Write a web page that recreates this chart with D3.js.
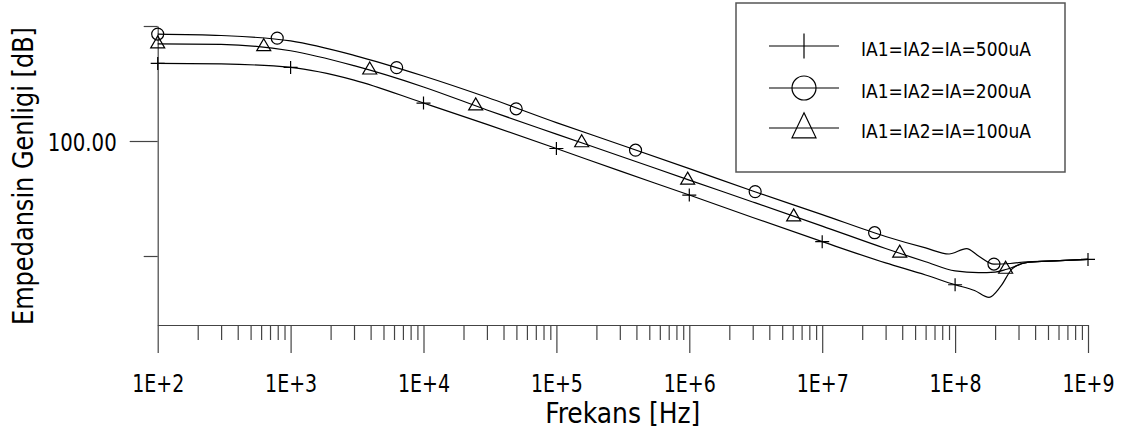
<!DOCTYPE html>
<html>
<head>
<meta charset="utf-8">
<script src="https://cdn.jsdelivr.net/npm/d3@7"></script>
<style>
  body { margin: 0; background: #fff; }
  text { font-family: "DejaVu Sans Condensed", "DejaVu Sans", sans-serif; fill: #000; }
</style>
</head>
<body>
<script>
// curve data: frequency [Hz] and impedance magnitude [dB]
var freq500 = [1e2, 3e2, 1e3, 3e3, 1e4, 3e4, 1e5, 3e5, 1e6, 3e6, 1e7, 3e7, 6e7, 1e8, 1.4e8, 1.8e8, 2.2e8, 2.7e8, 3.5e8, 5e8, 1e9];
var mag500 = [113.5, 113.4, 112.8, 110.6, 106.6, 102.9, 98.7, 94.8, 90.6, 86.7, 82.5, 78.8, 76.7, 75.0, 74.0, 72.8, 74.7, 77.8, 78.9, 79.1, 79.4];

var freq200 = [1e2, 3e2, 1e3, 3e3, 1e4, 3e4, 1e5, 3e5, 1e6, 3e6, 1e7, 3e7, 6e7, 9e7, 1.22e8, 1.5e8, 1.96e8, 2.6e8, 3.5e8, 5e8, 1e9];
var mag200 = [118.6, 118.35, 117.4, 114.9, 111.3, 107.6, 103.2, 99.4, 95.2, 91.3, 87.2, 83.4, 81.4, 80.35, 81.3, 80.0, 78.6, 78.7, 79.0, 79.1, 79.4];

var freq100 = [1e2, 3e2, 1e3, 3e3, 1e4, 3e4, 1e5, 3e5, 1e6, 3e6, 1e7, 3e7, 6e7, 1e8, 1.5e8, 2e8, 2.45e8, 3.5e8, 5e8, 1e9];
var mag100 = [116.9, 116.8, 115.7, 113.1, 109.4, 105.4, 101.2, 97.4, 93.2, 89.4, 85.2, 81.3, 79.0, 77.4, 77.1, 77.2, 77.7, 78.9, 79.1, 79.4];

// marker positions
var mark500Freq = [1e2, 1e3, 1e4, 1e5, 1e6, 1e7, 1e8, 1e9];
var mark500Mag = [113.5, 112.8, 106.6, 98.7, 90.6, 82.5, 75.0, 79.4];
var mark200Freq = [1e2, 7.93e2, 6.28e3, 4.98e4, 3.94e5, 3.13e6, 2.48e7, 1.96e8];
var mark200Mag = [118.6, 117.9, 112.75, 105.6, 98.4, 91.2, 84.05, 78.6];
var mark100Freq = [1e2, 6.28e2, 3.94e3, 2.47e4, 1.55e5, 9.72e5, 6.1e6, 3.83e7, 2.4e8];
var mark100Mag = [116.9, 116.4, 112.35, 106.1, 99.7, 93.2, 86.8, 80.5, 77.7];

// axes
var xTickExp = [2, 3, 4, 5, 6, 7, 8, 9];
var yTicks = [80, 100, 120];
var yMin = 68;
var legendLabels = ["IA1=IA2=IA=500uA", "IA1=IA2=IA=200uA", "IA1=IA2=IA=100uA"];

var svgWidth = 1121;
var svgHeight = 436;

var svg = d3.select("body")
  .append("svg")
  .attr("width", svgWidth)
  .attr("height", svgHeight);

var plotLeft = 157.7, plotRight = 1088, plotTop = 26, plotBottom = 325;

var xScale = d3.scaleLog()
  .domain([1e2, 1e9])
  .range([plotLeft, plotRight]);

var yScale = d3.scaleLinear()
  .domain([yMin, 120])
  .range([plotBottom, plotTop]);

// minor ticks 2..9 in each decade
var minorTicks = [];
xTickExp.slice(0, -1).forEach(function (e) {
  for (var k = 2; k <= 9; k++) minorTicks.push(k * Math.pow(10, e));
});

var minorAxis = d3.axisBottom(xScale)
  .tickValues(minorTicks)
  .tickSize(15)
  .tickSizeOuter(0)
  .tickFormat("");

svg.append("g")
  .attr("class", "minorAxis")
  .attr("transform", `translate(0,${plotBottom})`)
  .call(minorAxis);

var majorAxis = d3.axisBottom(xScale)
  .tickValues(xTickExp.map(e => Math.pow(10, e)))
  .tickSize(28)
  .tickSizeOuter(0)
  .tickFormat(d => "1E+" + Math.round(Math.log10(d)));

var bottomG = svg.append("g")
  .attr("class", "bottomAxis")
  .attr("transform", `translate(0,${plotBottom})`)
  .call(majorAxis);

bottomG.selectAll("text")
  .attr("y", 66.7)
  .attr("dy", null)
  .style("font-size", "24px")
  .attr("textLength", 52)
  .attr("lengthAdjust", "spacingAndGlyphs");

var leftAxis = d3.axisLeft(yScale)
  .tickValues(yTicks)
  .tickSize(14)
  .tickSizeOuter(0)
  .tickFormat(d => d === 100 ? "100.00" : "");

var leftG = svg.append("g")
  .attr("class", "leftAxis")
  .attr("transform", `translate(${plotLeft},0)`)
  .call(leftAxis);

leftG.selectAll(".tick")
  .filter(d => d === 100)
  .select("line")
  .attr("x2", -28);

leftG.selectAll("text")
  .attr("x", -41)
  .attr("dy", "0.38em")
  .style("font-size", "24px")
  .attr("textLength", function (d) { return d === 100 ? 69 : null; })
  .attr("lengthAdjust", "spacingAndGlyphs");

svg.selectAll(".domain, .tick line")
  .attr("stroke", "#444")
  .attr("stroke-width", 1.2);

// axis titles
svg.append("text")
  .attr("x", (plotLeft + plotRight) / 2)
  .attr("y", 423)
  .attr("text-anchor", "middle")
  .style("font-size", "28px")
  .attr("textLength", 155)
  .attr("lengthAdjust", "spacingAndGlyphs")
  .text("Frekans [Hz]");

svg.append("text")
  .attr("transform", "translate(33,176) rotate(-90)")
  .attr("text-anchor", "middle")
  .style("font-size", "28px")
  .attr("textLength", 298)
  .attr("lengthAdjust", "spacingAndGlyphs")
  .text("Empedansin Genligi [dB]");

// marker shapes
function plusPath(w, h) {
  return `M${-w / 2},0H${w / 2}M0,${-h / 2}V${h / 2}`;
}
function triPath(w, h) {
  return `M0,${-2 * h / 3}L${w / 2},${h / 3}L${-w / 2},${h / 3}Z`;
}

var line = d3.line()
  .x(d => xScale(d[0]))
  .y(d => yScale(d[1]))
  .curve(d3.curveMonotoneX);

var series = [
  { f: freq500, m: mag500, mf: mark500Freq, mm: mark500Mag, shape: "plus" },
  { f: freq200, m: mag200, mf: mark200Freq, mm: mark200Mag, shape: "circle" },
  { f: freq100, m: mag100, mf: mark100Freq, mm: mark100Mag, shape: "tri" }
];

function drawMarker(g, shape, x, y, big) {
  var s = big ? 2 : 1;
  if (shape === "plus") {
    g.append("path")
      .attr("d", big ? `M0,-12.5V12.5` : plusPath(14, 13))
      .attr("transform", `translate(${x},${y})`)
      .attr("stroke", "#000").attr("stroke-width", 1.2).attr("fill", "none");
  } else if (shape === "circle") {
    g.append("circle")
      .attr("cx", x).attr("cy", y).attr("r", 6 * s)
      .attr("stroke", "#000").attr("stroke-width", 1.2).attr("fill", "none");
  } else {
    g.append("path")
      .attr("d", big ? triPath(24, 25) : triPath(14, 12))
      .attr("transform", `translate(${x},${y})`)
      .attr("stroke", "#000").attr("stroke-width", 1.2).attr("fill", "none");
  }
}

var plotG = svg.append("g").attr("class", "curves");

series.forEach(function (s) {
  plotG.append("path")
    .datum(d3.zip(s.f, s.m))
    .attr("d", line)
    .attr("fill", "none")
    .attr("stroke", "#000")
    .attr("stroke-width", 1.2);
  s.mf.forEach(function (f, i) {
    drawMarker(plotG, s.shape, xScale(f), yScale(s.mm[i]), false);
  });
});

// legend
var legendG = svg.append("g").attr("class", "legend");
legendG.append("rect")
  .attr("x", 736).attr("y", 3)
  .attr("width", 329).attr("height", 169)
  .attr("fill", "#fff")
  .attr("stroke", "#555")
  .attr("stroke-width", 1.5);

var rowY = [46, 88, 128];
series.forEach(function (s, i) {
  legendG.append("line")
    .attr("x1", 769).attr("x2", 839)
    .attr("y1", rowY[i]).attr("y2", rowY[i])
    .attr("stroke", "#000").attr("stroke-width", 1.2);
  drawMarker(legendG, s.shape, 804, s.shape === "tri" ? rowY[i] + 1.5 : rowY[i], true);
  legendG.append("text")
    .attr("x", 861)
    .attr("y", rowY[i] + 9.5)
    .style("font-size", "19.5px")
    .attr("textLength", 170)
    .attr("lengthAdjust", "spacingAndGlyphs")
    .text(legendLabels[i]);
});
</script>
</body>
</html>
